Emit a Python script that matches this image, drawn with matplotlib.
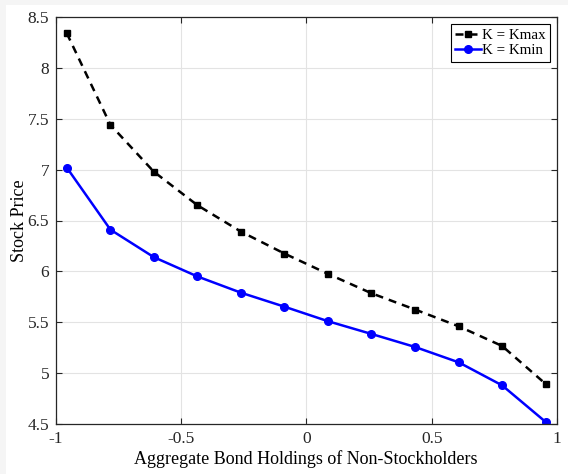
import matplotlib.pyplot as plt
from matplotlib.patches import Rectangle

plt.rcParams['font.family'] = ['Liberation Serif', 'DejaVu Serif']

# data
bond_holdings = [-0.955, -0.781, -0.608, -0.434, -0.260, -0.087,
                 0.087, 0.260, 0.434, 0.608, 0.781, 0.955]
price_kmax = [8.34, 7.44, 6.98, 6.65, 6.39, 6.175, 5.975, 5.785, 5.625, 5.46, 5.267, 4.893]
price_kmin = [7.02, 6.41, 6.14, 5.95, 5.79, 5.653, 5.51, 5.385, 5.257, 5.106, 4.88, 4.52]
x_ticks = [-1, -0.5, 0, 0.5, 1]
x_tick_labels = ['-1', '-0.5', '0', '0.5', '1']
y_ticks = [4.5, 5, 5.5, 6, 6.5, 7, 7.5, 8, 8.5]
y_tick_labels = ['4.5', '5', '5.5', '6', '6.5', '7', '7.5', '8', '8.5']

fig = plt.figure(figsize=(5.68, 4.74), dpi=100)
fig.patch.set_facecolor('#f5f5f5')
fig.patches.append(Rectangle((6 / 568, 0), 1, 1 - 5 / 474, transform=fig.transFigure,
                             facecolor='white', edgecolor='none', zorder=-1))

ax = fig.add_axes([55.5 / 568, 1 - 424 / 474, 501.5 / 568, 407 / 474])
ax.plot(bond_holdings, price_kmax, color='black', linestyle=(0, (3.2, 2.4)), linewidth=1.8,
        marker='s', markersize=5, label='K = Kmax')
ax.plot(bond_holdings, price_kmin, color='blue', linewidth=1.8,
        marker='o', markersize=5.5, label='K = Kmin')

ax.set_xlim(-1, 1)
ax.set_ylim(4.5, 8.5)
ax.set_xticks(x_ticks)
ax.set_xticklabels(x_tick_labels)
ax.set_yticks(y_ticks)
ax.set_yticklabels(y_tick_labels)
ax.grid(True, color='#e3e3e3', linewidth=0.8)
ax.set_axisbelow(True)
ax.tick_params(direction='in', top=True, right=True, length=4, width=0.8,
               labelsize=12.5, colors='#262626')
ax.tick_params(axis='x', pad=5)
ax.tick_params(axis='y', pad=4.5)
for spine in ax.spines.values():
    spine.set_color('#262626')
    spine.set_linewidth(0.9)

ax.set_xlabel('Aggregate Bond Holdings of Non-Stockholders', fontsize=13, labelpad=2)
ax.set_ylabel('Stock Price', fontsize=13, labelpad=0)

leg = ax.legend(loc='upper right', fontsize=10.8, fancybox=False, framealpha=1,
                edgecolor='black', borderpad=0.3, handlelength=1.7, handletextpad=0.1,
                labelspacing=0.15, borderaxespad=0.45)
leg.get_frame().set_linewidth(0.8)

fig.savefig('out.png', dpi=100, facecolor=fig.get_facecolor())
